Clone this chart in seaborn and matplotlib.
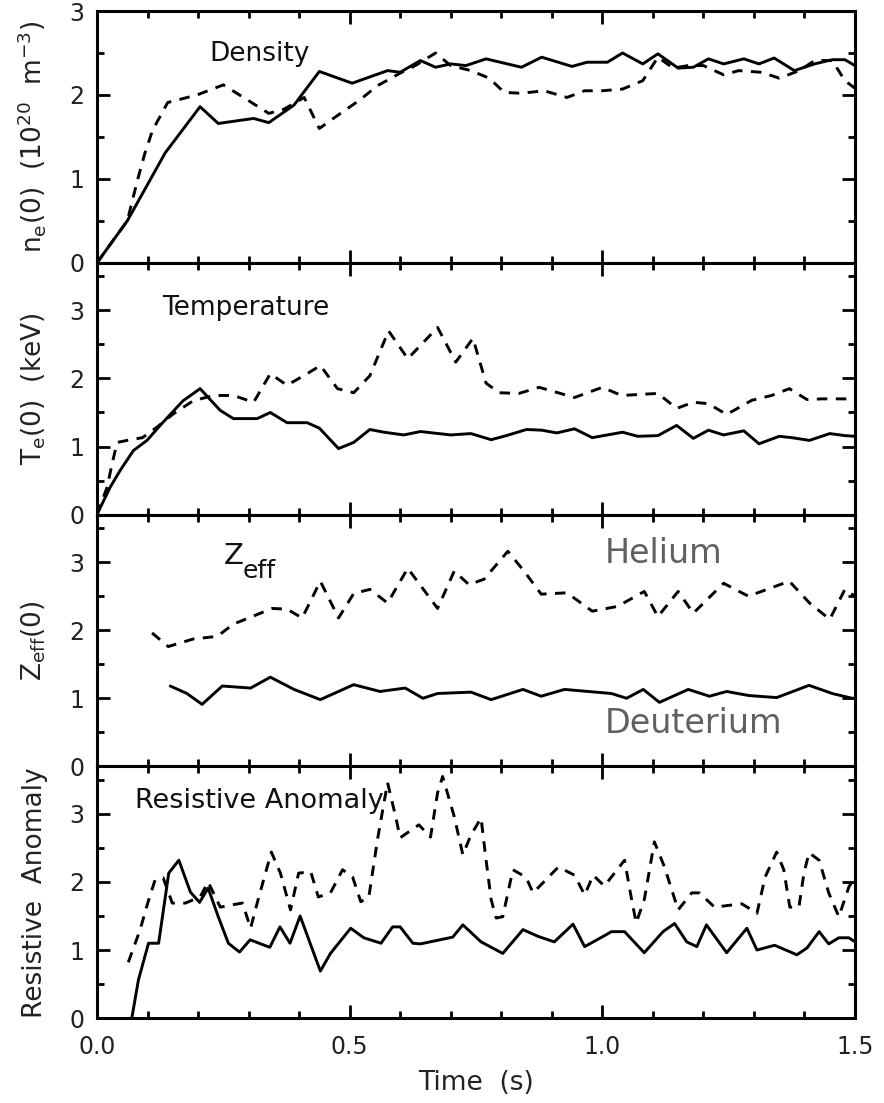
import numpy as np
import pandas as pd
import matplotlib
matplotlib.use("Agg")
import matplotlib.pyplot as plt
from matplotlib.ticker import MultipleLocator, FormatStrFormatter
import seaborn as sns

# ---------------- data ----------------
dens_d_x = [0.0, 0.06, 0.135, 0.204, 0.24, 0.31, 0.34, 0.39, 0.44, 0.505, 0.575, 0.60, 0.64, 0.67, 0.70, 0.73, 0.77, 0.84, 0.88, 0.94, 0.97, 1.01, 1.04, 1.08, 1.11, 1.15, 1.18, 1.21, 1.24, 1.28, 1.31, 1.34, 1.38, 1.42, 1.455, 1.48, 1.5]
dens_d_y = [0.0, 0.5, 1.31, 1.86, 1.66, 1.72, 1.67, 1.88, 2.28, 2.14, 2.29, 2.27, 2.41, 2.33, 2.37, 2.35, 2.43, 2.33, 2.45, 2.34, 2.39, 2.39, 2.50, 2.37, 2.49, 2.32, 2.33, 2.43, 2.37, 2.43, 2.37, 2.44, 2.29, 2.37, 2.42, 2.42, 2.35]
dens_h_x = [0.0, 0.06, 0.08, 0.095, 0.11, 0.14, 0.198, 0.25, 0.29, 0.34, 0.37, 0.41, 0.44, 0.47, 0.52, 0.555, 0.60, 0.63, 0.67, 0.70, 0.74, 0.776, 0.806, 0.84, 0.885, 0.93, 0.965, 1.0, 1.04, 1.08, 1.11, 1.14, 1.17, 1.20, 1.24, 1.27, 1.315, 1.35, 1.39, 1.42, 1.455, 1.48, 1.5]
dens_h_y = [0.0, 0.5, 0.98, 1.31, 1.58, 1.91, 2.0, 2.12, 1.97, 1.78, 1.83, 1.97, 1.6, 1.73, 1.94, 2.11, 2.26, 2.35, 2.5, 2.35, 2.29, 2.2, 2.03, 2.02, 2.05, 1.97, 2.05, 2.05, 2.07, 2.17, 2.45, 2.32, 2.35, 2.35, 2.24, 2.29, 2.27, 2.2, 2.29, 2.41, 2.41, 2.17, 2.08]

temp_d_x = [0.0, 0.026, 0.046, 0.072, 0.099, 0.125, 0.17, 0.204, 0.244, 0.27, 0.317, 0.343, 0.376, 0.416, 0.44, 0.478, 0.508, 0.54, 0.568, 0.607, 0.64, 0.70, 0.74, 0.78, 0.81, 0.85, 0.88, 0.91, 0.945, 0.98, 1.01, 1.04, 1.07, 1.11, 1.147, 1.18, 1.21, 1.24, 1.28, 1.31, 1.35, 1.375, 1.41, 1.45, 1.48, 1.5]
temp_d_y = [0.0, 0.4, 0.65, 0.94, 1.09, 1.31, 1.67, 1.85, 1.53, 1.41, 1.41, 1.5, 1.35, 1.35, 1.27, 0.97, 1.06, 1.25, 1.21, 1.17, 1.22, 1.17, 1.19, 1.1, 1.16, 1.25, 1.24, 1.2, 1.26, 1.13, 1.17, 1.21, 1.15, 1.16, 1.31, 1.12, 1.24, 1.17, 1.23, 1.04, 1.15, 1.13, 1.09, 1.19, 1.16, 1.15]
temp_h_x = [0.0, 0.02, 0.03, 0.04, 0.06, 0.09, 0.118, 0.151, 0.19, 0.23, 0.27, 0.31, 0.343, 0.376, 0.416, 0.442, 0.476, 0.508, 0.54, 0.577, 0.615, 0.674, 0.71, 0.744, 0.77, 0.796, 0.835, 0.875, 0.945, 1.0, 1.038, 1.11, 1.147, 1.18, 1.21, 1.246, 1.296, 1.335, 1.37, 1.405, 1.434, 1.484, 1.5]
temp_h_y = [0.0, 0.4, 0.75, 1.06, 1.09, 1.13, 1.28, 1.48, 1.67, 1.75, 1.75, 1.65, 2.07, 1.9, 2.07, 2.19, 1.85, 1.79, 2.04, 2.7, 2.29, 2.75, 2.24, 2.59, 1.93, 1.79, 1.78, 1.87, 1.72, 1.87, 1.75, 1.78, 1.56, 1.65, 1.63, 1.47, 1.68, 1.75, 1.85, 1.69, 1.7, 1.7, 1.68]

zeff_h_x = [0.109, 0.141, 0.19, 0.238, 0.27, 0.31, 0.347, 0.376, 0.406, 0.442, 0.478, 0.508, 0.54, 0.575, 0.615, 0.674, 0.707, 0.736, 0.766, 0.813, 0.845, 0.879, 0.93, 0.98, 1.03, 1.083, 1.11, 1.15, 1.18, 1.24, 1.289, 1.37, 1.41, 1.45, 1.48, 1.5]
zeff_h_y = [1.96, 1.76, 1.87, 1.91, 2.09, 2.21, 2.32, 2.31, 2.18, 2.72, 2.18, 2.54, 2.6, 2.4, 2.91, 2.32, 2.87, 2.67, 2.75, 3.16, 2.87, 2.53, 2.55, 2.28, 2.35, 2.57, 2.2, 2.57, 2.25, 2.69, 2.5, 2.72, 2.4, 2.16, 2.6, 2.5]
zeff_d_x = [0.145, 0.178, 0.208, 0.248, 0.304, 0.343, 0.39, 0.442, 0.508, 0.56, 0.61, 0.645, 0.674, 0.74, 0.78, 0.843, 0.879, 0.925, 1.018, 1.048, 1.081, 1.113, 1.17, 1.212, 1.246, 1.29, 1.345, 1.409, 1.455, 1.494, 1.5]
zeff_d_y = [1.18, 1.07, 0.91, 1.18, 1.15, 1.31, 1.13, 0.98, 1.2, 1.1, 1.15, 1.0, 1.07, 1.09, 0.98, 1.13, 1.03, 1.13, 1.07, 1.0, 1.13, 0.94, 1.13, 1.03, 1.1, 1.04, 1.01, 1.19, 1.07, 1.0, 1.0]

res_d_x = [0.069, 0.082, 0.102, 0.122, 0.142, 0.162, 0.185, 0.203, 0.22, 0.24, 0.26, 0.282, 0.303, 0.342, 0.362, 0.382, 0.402, 0.442, 0.462, 0.502, 0.528, 0.562, 0.585, 0.60, 0.625, 0.64, 0.704, 0.724, 0.76, 0.803, 0.843, 0.873, 0.905, 0.942, 0.965, 1.004, 1.018, 1.044, 1.083, 1.12, 1.143, 1.167, 1.187, 1.206, 1.246, 1.286, 1.306, 1.341, 1.385, 1.405, 1.429, 1.448, 1.468, 1.488, 1.5]
res_d_y = [0.0, 0.56, 1.1, 1.1, 2.13, 2.32, 1.85, 1.7, 1.91, 1.49, 1.1, 0.97, 1.15, 1.04, 1.34, 1.1, 1.5, 0.69, 0.95, 1.32, 1.18, 1.1, 1.34, 1.34, 1.1, 1.09, 1.19, 1.37, 1.12, 0.95, 1.3, 1.2, 1.12, 1.38, 1.05, 1.21, 1.27, 1.27, 0.96, 1.27, 1.39, 1.12, 1.05, 1.37, 0.96, 1.32, 1.0, 1.07, 0.93, 1.03, 1.27, 1.09, 1.18, 1.18, 1.12]
res_h_x = [0.062, 0.085, 0.102, 0.115, 0.131, 0.149, 0.175, 0.204, 0.22, 0.244, 0.264, 0.288, 0.304, 0.317, 0.345, 0.363, 0.383, 0.399, 0.423, 0.438, 0.462, 0.486, 0.506, 0.522, 0.538, 0.555, 0.575, 0.591, 0.60, 0.637, 0.66, 0.674, 0.684, 0.707, 0.724, 0.74, 0.76, 0.77, 0.78, 0.79, 0.803, 0.823, 0.849, 0.863, 0.913, 0.945, 0.965, 0.982, 1.004, 1.044, 1.058, 1.067, 1.083, 1.103, 1.123, 1.15, 1.177, 1.192, 1.222, 1.276, 1.306, 1.322, 1.345, 1.359, 1.371, 1.389, 1.399, 1.409, 1.429, 1.448, 1.468, 1.488, 1.5]
res_h_y = [0.82, 1.29, 1.73, 2.03, 2.06, 1.69, 1.69, 1.78, 2.0, 1.63, 1.66, 1.69, 1.32, 1.69, 2.44, 2.13, 1.59, 2.13, 2.15, 1.78, 1.84, 2.18, 2.07, 1.71, 1.78, 2.62, 3.46, 2.96, 2.65, 2.84, 2.66, 3.31, 3.55, 2.96, 2.4, 2.69, 2.94, 2.32, 1.74, 1.47, 1.49, 2.18, 2.07, 1.84, 2.22, 2.1, 1.81, 2.1, 1.94, 2.32, 1.74, 1.4, 1.74, 2.59, 2.22, 1.59, 1.84, 1.84, 1.63, 1.68, 1.54, 2.07, 2.44, 2.18, 1.63, 1.63, 2.13, 2.43, 2.32, 1.84, 1.49, 1.93, 2.07]

x_ticks = [0.0, 0.5, 1.0, 1.5]
y_ticks = [0, 1, 2, 3]

panel_titles = ["Density", "Temperature", "Z", "Resistive Anomaly"]
y_labels = [r"n$_{\mathregular{e}}$(0)  (10$^{\mathregular{20}}$  m$^{\mathregular{-3}}$)",
            r"T$_{\mathregular{e}}$(0)  (keV)",
            r"Z$_{\mathregular{eff}}$(0)",
            "Resistive  Anomaly"]

# ---------------- style ----------------
sns.set_theme(style="ticks")
plt.rcParams["font.family"] = ["DejaVu Sans"]
plt.rcParams["mathtext.default"] = "regular"

fig, axes = plt.subplots(4, 1, figsize=(8.84, 11.03), dpi=100, sharex=True)
fig.subplots_adjust(left=0.1097, right=0.9672, top=0.990, bottom=0.077, hspace=0)

series = [
    (dens_d_x, dens_d_y, dens_h_x, dens_h_y),
    (temp_d_x, temp_d_y, temp_h_x, temp_h_y),
    (zeff_d_x, zeff_d_y, zeff_h_x, zeff_h_y),
    (res_d_x, res_d_y, res_h_x, res_h_y),
]
ylims = [(0, 3.0), (0, 3.7), (0, 3.7), (0, 3.7)]
title_pos = [(0.222, 2.41), (0.129, 2.93), (0.25, 2.97), (0.075, 3.09)]
title_sizes = [19, 19, 21, 19.5]

for i, ax in enumerate(axes):
    dx, dy, hx, hy = series[i]
    sns.lineplot(x=dx, y=dy, ax=ax, color="black", lw=2.1, sort=False,
                 estimator=None, errorbar=None)
    sns.lineplot(x=hx, y=hy, ax=ax, color="black", lw=2.1, sort=False,
                 estimator=None, errorbar=None, linestyle=(0, (3.6, 2.9)))
    ax.set_xlim(0, 1.5)
    ax.set_ylim(*ylims[i])
    ax.set_yticks(y_ticks)
    ax.yaxis.set_minor_locator(MultipleLocator(0.5))
    ax.xaxis.set_minor_locator(MultipleLocator(0.1))
    ax.set_xticks(x_ticks)
    ax.xaxis.set_major_formatter(FormatStrFormatter("%.1f"))
    ax.tick_params(which="both", direction="in", top=True, right=True,
                   width=2, colors="black", labelsize=17, labelcolor="#222222")
    ax.tick_params(which="major", length=9.5)
    ax.tick_params(which="minor", length=5)
    ax.tick_params(axis="y", pad=9)
    ax.tick_params(axis="x", pad=12)
    for sp in ax.spines.values():
        sp.set_linewidth(2.2)
        sp.set_color("black")
    ax.set_ylabel(y_labels[i], fontsize=19, color="#222222")
    ax.yaxis.set_label_coords(-0.065, 0.5)
    ax.text(title_pos[i][0], title_pos[i][1], panel_titles[i],
            fontsize=title_sizes[i], ha="left", va="baseline", color="#111111")
    if i < 3:
        ax.tick_params(axis="x", labelbottom=False)

# subscript of the Z_eff panel title
axes[2].text(0.288, 2.77, "eff", fontsize=18, ha="left", va="baseline",
             color="#111111")

axes[2].text(1.004, 2.99, "Helium", fontsize=24, color="#606060",
             ha="left", va="baseline")
axes[2].text(1.004, 0.49, "Deuterium", fontsize=24, color="#606060",
             ha="left", va="baseline")

axes[3].set_xlabel("Time  (s)", fontsize=19, color="#222222", labelpad=8)

fig.savefig("out.png", dpi=100)
